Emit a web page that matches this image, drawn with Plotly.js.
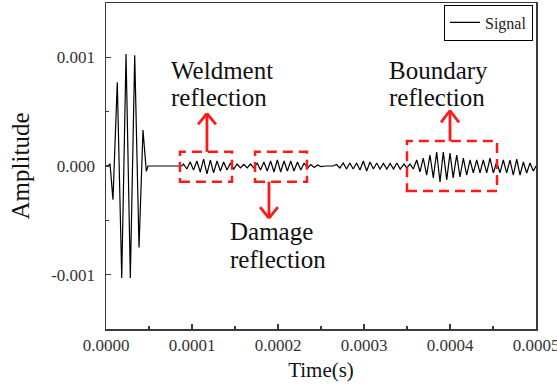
<!DOCTYPE html>
<html>
<head>
<meta charset="utf-8">
<script src="https://cdn.plot.ly/plotly-3.0.1.min.js"></script>
<style>html,body{margin:0;padding:0;background:#fff}#chart{width:557px;height:385px}</style>
</head>
<body>
<div id="chart"></div>
<script>
// Signal extrema: time (s) and amplitude
const timeS = [
  0, 2.3e-6, 4.7e-6, 8.1e-6, 13.1e-6, 18.3e-6, 23.3e-6, 28.3e-6, 33.4e-6, 38.4e-6, 43.0e-6, 46.9e-6, 48.8e-6, 88.4e-6,
  90.1e-6, 94.0e-6, 97.9e-6, 101.8e-6, 105.7e-6, 109.6e-6, 113.5e-6, 117.4e-6, 121.3e-6, 125.1e-6, 129.1e-6, 133.0e-6, 136.8e-6, 140.7e-6, 144.7e-6, 148.6e-6,
  152.4e-6, 156.3e-6, 160.2e-6, 164.2e-6, 168.0e-6, 171.9e-6,
  175.8e-6, 179.7e-6, 183.6e-6, 187.5e-6, 191.4e-6, 195.3e-6, 199.2e-6, 203.1e-6, 207.0e-6, 210.9e-6, 214.8e-6, 218.6e-6, 222.6e-6, 226.5e-6, 230.4e-6, 234.3e-6,
  238.2e-6, 242.1e-6, 246.0e-6, 249.9e-6, 255.8e-6, 264.0e-6,
  268.0e-6, 271.9e-6, 275.8e-6, 279.7e-6, 283.5e-6, 287.4e-6, 291.4e-6, 295.3e-6, 299.2e-6, 303.1e-6, 307.0e-6, 310.9e-6, 314.8e-6, 318.6e-6, 322.6e-6, 326.5e-6, 330.4e-6, 334.3e-6, 338.2e-6, 342.1e-6,
  346.5e-6, 349.7e-6, 353.5e-6, 357.3e-6, 361.3e-6, 365.1e-6, 368.9e-6, 372.9e-6, 376.7e-6, 380.6e-6, 384.5e-6, 388.4e-6, 392.2e-6, 396.2e-6, 400.0e-6, 403.7e-6, 407.8e-6, 411.6e-6, 415.5e-6, 419.4e-6,
  423.3e-6, 427.1e-6, 431.1e-6, 434.9e-6, 438.7e-6, 442.7e-6, 446.5e-6, 450.4e-6, 454.3e-6, 458.1e-6, 462.0e-6, 465.9e-6, 469.8e-6, 473.6e-6, 477.6e-6, 481.4e-6, 485.3e-6, 489.2e-6, 493.0e-6, 496.9e-6, 500.0e-6
];
const amplitude = [
  0, 0, 20e-6, -310e-6, 770e-6, -1030e-6, 1030e-6, -1030e-6, 1020e-6, -750e-6, 330e-6, -50e-6, 0, 0,
  18e-6, -28e-6, 37e-6, -37e-6, 46e-6, -55e-6, 64e-6, -73e-6, 55e-6, -64e-6, 46e-6, -46e-6, 37e-6, -37e-6, 28e-6, -28e-6,
  18e-6, -18e-6, 14e-6, -18e-6, 18e-6, -18e-6,
  28e-6, -37e-6, 37e-6, -46e-6, 46e-6, -55e-6, 55e-6, -55e-6, 46e-6, -46e-6, 46e-6, -46e-6, 37e-6, -37e-6, 28e-6, -18e-6,
  14e-6, -14e-6, 9e-6, -5e-6, 0, 0,
  14e-6, -18e-6, 28e-6, -28e-6, 28e-6, -28e-6, 28e-6, -37e-6, 46e-6, -46e-6, 37e-6, -28e-6, 28e-6, -28e-6, 23e-6, -28e-6, 23e-6, -28e-6, 28e-6, -28e-6,
  18e-6, -18e-6, 18e-6, -28e-6, 55e-6, -55e-6, 73e-6, -83e-6, 101e-6, -110e-6, 128e-6, -147e-6, 128e-6, -128e-6, 119e-6, -110e-6, 101e-6, -101e-6, 73e-6, -83e-6,
  55e-6, -64e-6, 55e-6, -64e-6, 55e-6, -64e-6, 73e-6, -64e-6, 37e-6, -64e-6, 55e-6, -64e-6, 55e-6, -83e-6, 64e-6, -83e-6, 37e-6, -64e-6, 28e-6, -46e-6, 0
];

// Tick labels
const xTickVals = [0, 0.0001, 0.0002, 0.0003, 0.0004, 0.0005];
const xTickText = ['0.0000', '0.0001', '0.0002', '0.0003', '0.0004', '0.0005'];
const yTickVals = [-0.001, 0, 0.001];
const yTickText = ['-0.001', '0.000', '0.001'];

// Annotation texts
const labelTexts = ['Weldment', 'reflection', 'Boundary', 'reflection', 'Damage', 'reflection'];
const labelX = [72.7e-6, 72.7e-6, 327.3e-6, 327.3e-6, 141.3e-6, 141.3e-6];
const labelY = [0.878e-3, 0.63e-3, 0.878e-3, 0.63e-3, -0.599e-3, -0.856e-3];

// Dashed boxes [x0, x1, y0, y1]
const boxes = [
  [86.0e-6, 146.5e-6, -0.145e-3, 0.13e-3],
  [173.3e-6, 233.7e-6, -0.145e-3, 0.13e-3],
  [350.0e-6, 454.7e-6, -0.229e-3, 0.229e-3]
];
// Arrows [x, yBase, yTip, halfWidth, yWing]
const arrows = [
  [117.4e-6, 0.13e-3, 0.483e-3, 10.4e-6, 0.383e-3],
  [189.5e-6, -0.145e-3, -0.48e-3, 10.4e-6, -0.379e-3],
  [400.0e-6, 0.229e-3, 0.511e-3, 10.4e-6, 0.401e-3]
];

const serif = 'Liberation Serif';
const axisColor = '#3a3a3a';
const red = '#ff1a1a';

const shapes = [];
boxes.forEach(b => shapes.push({
  type: 'rect', xref: 'x', yref: 'y', x0: b[0], x1: b[1], y0: b[2], y1: b[3],
  line: {color: red, width: 2.5, dash: '10px,6px'}, fillcolor: 'rgba(0,0,0,0)', layer: 'above'
}));
arrows.forEach(a => {
  const ln = {color: red, width: 2.8};
  shapes.push({type: 'line', xref: 'x', yref: 'y', x0: a[0], x1: a[0], y0: a[1], y1: a[2], line: ln});
  shapes.push({type: 'line', xref: 'x', yref: 'y', x0: a[0] - a[3], x1: a[0], y0: a[4], y1: a[2], line: ln});
  shapes.push({type: 'line', xref: 'x', yref: 'y', x0: a[0] + a[3], x1: a[0], y0: a[4], y1: a[2], line: ln});
});

const annotations = labelTexts.map((t, i) => ({
  text: t, x: labelX[i], y: labelY[i], xref: 'x', yref: 'y',
  xanchor: 'left', yanchor: 'middle', showarrow: false,
  font: {family: serif, size: 25, color: '#111'}
}));

const trace = {
  x: timeS, y: amplitude, type: 'scatter', mode: 'lines', name: 'Signal',
  line: {color: '#000', width: 1.2}
};

const axisCommon = {
  showline: true, linecolor: axisColor, linewidth: 1.5, mirror: true,
  showgrid: false, zeroline: false, ticks: 'inside', ticklen: 5, tickwidth: 1.3,
  tickcolor: axisColor, tickfont: {family: serif, size: 17, color: '#333'}, automargin: false,
  ticklabeloverflow: 'allow'
};

const layout = {
  width: 557, height: 385,
  margin: {l: 106, r: 21, t: 3, b: 56},
  paper_bgcolor: '#fff', plot_bgcolor: '#fff',
  font: {family: serif, color: '#111'},
  showlegend: true,
  legend: {x: 0.993, y: 0.94, xanchor: 'right', yanchor: 'middle', bgcolor: '#fff',
           bordercolor: '#000', borderwidth: 1, font: {family: serif, size: 16, color: '#222'}},
  xaxis: Object.assign({}, axisCommon, {
    range: [0, 0.0005], tickmode: 'array', tickvals: xTickVals, ticktext: xTickText,
    minor: {ticks: 'inside', ticklen: 3, tickwidth: 1.2, tickcolor: axisColor, tickmode: 'linear', tick0: 0.00005, dtick: 0.0001, showgrid: false},
    title: {text: 'Time(s)', font: {family: serif, size: 21, color: '#111'}, standoff: 8}
  }),
  yaxis: Object.assign({}, axisCommon, {
    range: [-0.0015, 0.0015], tickmode: 'array', tickvals: yTickVals, ticktext: yTickText,
    ticklabelstandoff: 6,
    minor: {ticks: 'inside', ticklen: 3, tickwidth: 1.2, tickcolor: axisColor, tickmode: 'linear', tick0: 0.0005, dtick: 0.001, showgrid: false},
    title: {text: 'Amplitude', font: {family: serif, size: 25, color: '#111'}, standoff: 14}
  }),
  shapes: shapes,
  annotations: annotations
};

Plotly.newPlot('chart', [trace], layout, {displayModeBar: false, staticPlot: true});
</script>
</body>
</html>
